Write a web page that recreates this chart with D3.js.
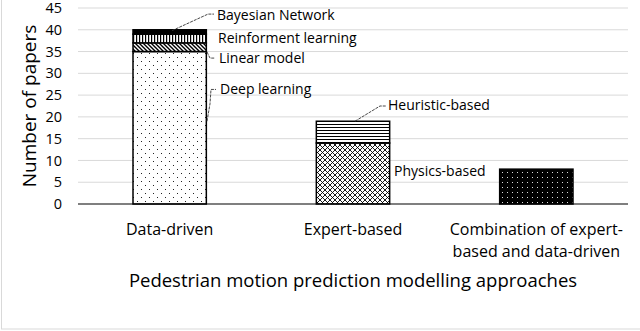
<!DOCTYPE html>
<html>
<head>
  <meta charset="utf-8">
  <script src="https://d3js.org/d3.v7.min.js"></script>
  <style>
    body { margin: 0; background: #fff; }
    text { font-family: "Open Sans", sans-serif; fill: #000; }
  </style>
</head>
<body>
<script>
  // chart values
  var categories = ["Data-driven", "Expert-based", "Combination"];
  var categoryLabels = [["Data-driven"], ["Expert-based"], ["Combination of expert-", "based and data-driven"]];
  var seriesNames = ["Deep learning", "Linear model", "Reinforment learning", "Bayesian Network",
                     "Physics-based", "Heuristic-based", "Combination"];
  var seriesCategory = ["Data-driven", "Data-driven", "Data-driven", "Data-driven",
                        "Expert-based", "Expert-based", "Combination"];
  var seriesValues = [35, 2, 2, 1, 14, 5, 8];
  var yTicks = [0, 5, 10, 15, 20, 25, 30, 35, 40, 45];

  var width = 640, height = 331;
  var margin = {left: 78, right: 12, top: 8, bottom: 127};

  var svg = d3.select("body").append("svg")
      .attr("width", width)
      .attr("height", height);

  // outer frame
  svg.append("rect")
      .attr("x", 1.5).attr("y", -5)
      .attr("width", width + 5).attr("height", 334)
      .attr("fill", "none").attr("stroke", "#d9d9d9");

  /* fill patterns */
  var defs = svg.append("defs");
  function pattern(id, w, h) {
    return defs.append("pattern").attr("id", id)
        .attr("patternUnits", "userSpaceOnUse")
        .attr("width", w).attr("height", h);
  }
  var p;
  p = pattern("dots", 8, 8);
  p.append("rect").attr("width", 8).attr("height", 8).attr("fill", "#fff");
  p.append("rect").attr("x", 1).attr("y", 1).attr("width", 1).attr("height", 1).attr("fill", "#222");
  p.append("rect").attr("x", 5).attr("y", 5).attr("width", 1).attr("height", 1).attr("fill", "#222");

  p = pattern("diag", 4, 4);
  p.append("rect").attr("width", 4).attr("height", 4).attr("fill", "#fff");
  p.append("path").attr("d", "M-1,-1 L5,5 M-1,3 L1,5 M3,-1 L5,1").attr("stroke", "#000").attr("stroke-width", 1.4);

  p = pattern("vert", 3, 3);
  p.append("rect").attr("width", 3).attr("height", 3).attr("fill", "#fff");
  p.append("rect").attr("x", 1).attr("width", 1.2).attr("height", 3).attr("fill", "#000");

  p = pattern("horiz", 3, 3);
  p.append("rect").attr("width", 3).attr("height", 3).attr("fill", "#fff");
  p.append("rect").attr("y", 1).attr("width", 3).attr("height", 1).attr("fill", "#000");

  p = pattern("cross", 5, 5);
  p.append("rect").attr("width", 5).attr("height", 5).attr("fill", "#fff");
  p.append("path").attr("d", "M0,0 L5,5 M5,0 L0,5").attr("stroke", "#000").attr("stroke-width", 0.9);

  p = pattern("blackdots", 5, 5);
  p.append("rect").attr("width", 5).attr("height", 5).attr("fill", "#000");
  p.append("rect").attr("x", 2).attr("y", 2).attr("width", 1).attr("height", 1).attr("fill", "#ddd");

  var fills = ["url(#dots)", "url(#diag)", "url(#vert)", "#000", "url(#cross)", "url(#horiz)", "url(#blackdots)"];

  /* scales */
  var x = d3.scaleBand()
      .domain(categories)
      .range([margin.left, width - margin.right])
      .paddingInner(0.6).paddingOuter(0.3);

  var y = d3.scaleLinear()
      .domain([0, 45])
      .range([height - margin.bottom, margin.top]);

  // gridlines
  svg.append("g")
    .selectAll("line")
    .data(yTicks.slice(1))
    .enter().append("line")
      .attr("x1", margin.left).attr("x2", width - margin.right)
      .attr("y1", function (d) { return y(d); })
      .attr("y2", function (d) { return y(d); })
      .attr("stroke", "#d9d9d9").attr("stroke-width", 1);

  // y axis labels
  var yAxis = svg.append("g")
      .attr("transform", "translate(" + (margin.left - 16) + ",0)")
      .call(d3.axisLeft(y).tickValues(yTicks).tickSize(0).tickPadding(0));
  yAxis.select(".domain").remove();
  yAxis.selectAll("text").style("font-size", "14.5px").style("font-family", "Open Sans").attr("fill", "#000");

  /* stack segments per category */
  var bases = {};
  var segs = seriesNames.map(function (name, i) {
    var c = seriesCategory[i];
    var y0 = bases[c] || 0;
    bases[c] = y0 + seriesValues[i];
    return {name: name, cat: c, y0: y0, y1: y0 + seriesValues[i], fill: fills[i]};
  });

  svg.append("g")
    .selectAll("rect")
    .data(segs)
    .enter().append("rect")
      .attr("x", function (d) { return x(d.cat); })
      .attr("width", x.bandwidth())
      .attr("y", function (d) { return y(d.y1); })
      .attr("height", function (d) { return y(d.y0) - y(d.y1); })
      .attr("fill", function (d) { return d.fill; })
      .attr("stroke", "#000")
      .attr("stroke-width", 1.5);

  // baseline
  svg.append("line")
      .attr("x1", margin.left).attr("x2", width - margin.right)
      .attr("y1", y(0)).attr("y2", y(0))
      .attr("stroke", "#000").attr("stroke-width", 1.2);

  // category labels
  var cl = svg.append("g").selectAll("text")
      .data(categories)
      .enter().append("text")
      .attr("text-anchor", "middle")
      .style("font-size", "16px")
      .attr("x", function (d) { return x(d) + x.bandwidth() / 2; })
      .attr("y", y(0) + 31);
  cl.selectAll("tspan")
      .data(function (d, i) { return categoryLabels[i]; })
      .enter().append("tspan")
      .attr("x", function () { return d3.select(this.parentNode).attr("x"); })
      .attr("dy", function (d, i) { return i === 0 ? 0 : 22; })
      .text(function (d) { return d; });

  // axis titles
  svg.append("text")
      .attr("text-anchor", "middle")
      .attr("x", x("Expert-based") + x.bandwidth() / 2)
      .attr("y", 287)
      .style("font-size", "18.5px")
      .text("Pedestrian motion prediction modelling approaches");

  svg.append("text")
      .attr("text-anchor", "middle")
      .attr("transform", "translate(36," + y(22.5) + ") rotate(-90)")
      .style("font-size", "19px")
      .text("Number of papers");

  /* segment labels with leader lines */
  var labels = [
    {name: "Bayesian Network", lx: 217, ly: 43.3, pts: [[172, 39.8], [208, 43.6], [214, 43.6]]},
    {name: "Reinforment learning", lx: 218, ly: 38.2, pts: []},
    {name: "Linear model", lx: 219, ly: 33.4, pts: [[207, 34.9], [210, 33.5], [215, 33.5]]},
    {name: "Deep learning", lx: 220, ly: 26.3, pts: [[207, 19], [210, 23], [211, 26.3], [216, 26.3]]},
    {name: "Heuristic-based", lx: 388, ly: 22.6, pts: [[355, 19], [380, 22.5], [386, 22.5]]},
    {name: "Physics-based", lx: 394, ly: 7.6, pts: []}
  ];

  var line = d3.line()
      .x(function (d) { return d[0]; })
      .y(function (d) { return y(d[1]); });

  svg.append("g").selectAll("path")
      .data(labels.filter(function (d) { return d.pts.length; }))
      .enter().append("path")
      .attr("d", function (d) { return line(d.pts); })
      .attr("fill", "none")
      .attr("stroke", "#333")
      .attr("stroke-width", 0.9)
      .attr("stroke-dasharray", "3,1");

  svg.append("g").selectAll("text")
      .data(labels)
      .enter().append("text")
      .attr("x", function (d) { return d.lx; })
      .attr("y", function (d) { return y(d.ly); })
      .attr("dy", "0.35em")
      .style("font-size", "14px")
      .text(function (d) { return d.name; });
</script>
</body>
</html>
